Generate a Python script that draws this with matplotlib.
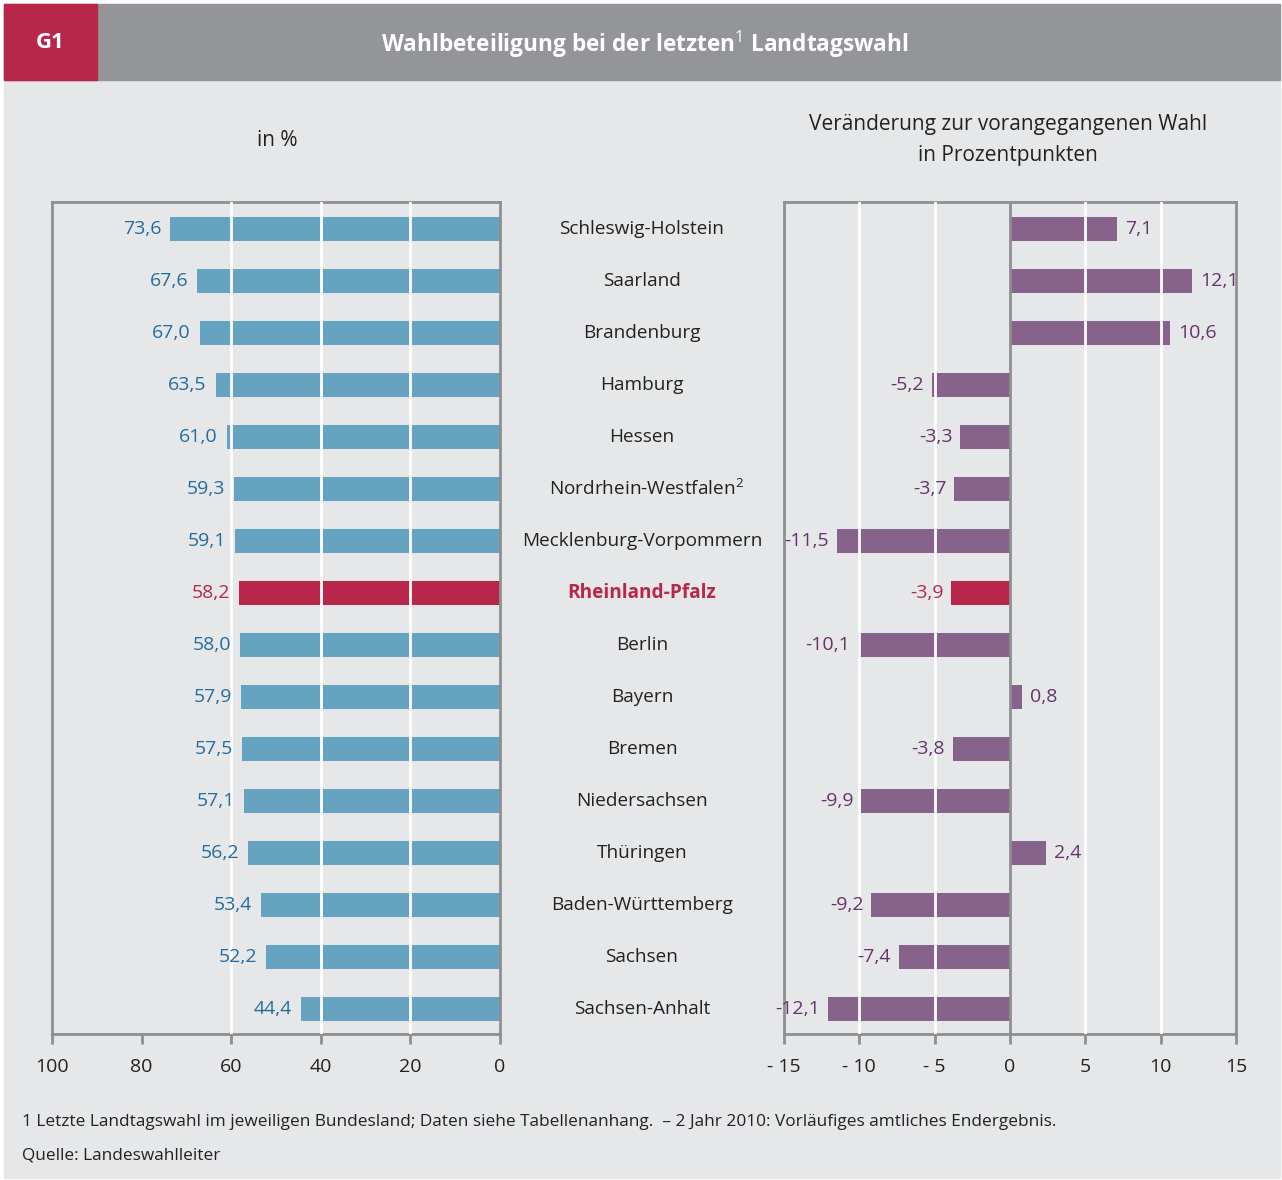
import matplotlib
matplotlib.use('Agg')
import matplotlib.pyplot as plt
import matplotlib.transforms as mtransforms
from matplotlib.patches import Rectangle

plt.rcParams['font.family'] = ['Open Sans', 'DejaVu Sans']
plt.rcParams['mathtext.fontset'] = 'custom'
plt.rcParams['mathtext.rm'] = 'Open Sans'

laender = ['Schleswig-Holstein', 'Saarland', 'Brandenburg', 'Hamburg', 'Hessen',
           'Nordrhein-Westfalen', 'Mecklenburg-Vorpommern', 'Rheinland-Pfalz',
           'Berlin', 'Bayern', 'Bremen', 'Niedersachsen', 'Thüringen',
           'Baden-Württemberg', 'Sachsen', 'Sachsen-Anhalt']
beteiligung = [73.6, 67.6, 67.0, 63.5, 61.0, 59.3, 59.1, 58.2, 58.0, 57.9,
               57.5, 57.1, 56.2, 53.4, 52.2, 44.4]
veraenderung = [7.1, 12.1, 10.6, -5.2, -3.3, -3.7, -11.5, -3.9, -10.1, 0.8,
                -3.8, -9.9, 2.4, -9.2, -7.4, -12.1]
left_ticks = [100, 80, 60, 40, 20, 0]
right_ticks = [-15, -10, -5, 0, 5, 10, 15]
right_ticklabels = ['- 15', '- 10', '- 5', '0', '5', '10', '15']
highlight = 'Rheinland-Pfalz'

W, H = 1282, 1180
bg = '#e6e7e9'
blue = '#65a3c0'
blue_txt = '#226d9f'
purple = '#87628a'
purple_txt = '#66346a'
red = '#b8274a'
spine_col = '#8e8f91'
txt = '#222222'

fig = plt.figure(figsize=(W / 100, H / 100), dpi=100, facecolor='white')

def fx(px):
    return px / W

def fy(py):
    return 1 - py / H

# hintergrund + kopfzeile
fig.patches.append(Rectangle((fx(4), fy(1178)), fx(1276), (1174) / H,
                             transform=fig.transFigure, color=bg, zorder=-10))
fig.patches.append(Rectangle((fx(4), fy(80)), fx(1276), 76 / H,
                             transform=fig.transFigure, color='#939598', zorder=-9))
fig.patches.append(Rectangle((fx(4), fy(80)), fx(93), 76 / H,
                             transform=fig.transFigure, color=red, zorder=-8))
fig.text(fx(50), fy(42), 'G1', color='white', fontsize=16, fontweight='bold',
         ha='center', va='center')
fig.text(fx(645), fy(44), r'Wahlbeteiligung bei der letzten$^{\mathrm{1}}$ Landtagswahl',
         color='white', fontsize=16.3, fontweight='bold', ha='center', va='center')

fig.text(fx(277), fy(140), 'in %', color=txt, fontsize=15, ha='center', va='center')
fig.text(fx(1008), fy(140), 'Veränderung zur vorangegangenen Wahl\nin Prozentpunkten',
         color=txt, fontsize=15, ha='center', va='center', linespacing=1.6)

ax1 = fig.add_axes([fx(52), fy(1034), fx(448), 832 / H])
ax2 = fig.add_axes([fx(784), fy(1034), fx(452), 832 / H])

y = list(range(len(laender)))
c1 = [red if n == highlight else blue for n in laender]
c2 = [red if n == highlight else purple for n in laender]

ax1.barh(y, beteiligung, height=0.47, color=c1, zorder=2)
ax2.barh(y, veraenderung, height=0.47, color=c2, zorder=2)

for ax in (ax1, ax2):
    ax.set_facecolor(bg)
    ax.set_ylim(15.48, -0.52)
    ax.set_yticks([])
    for s in ax.spines.values():
        s.set_color(spine_col)
        s.set_linewidth(2)
    ax.tick_params(axis='x', direction='out', length=7, width=2, color=spine_col,
                   labelsize=14, labelcolor=txt, pad=10)

ax1.set_xlim(100, 0)
ax1.set_xticks(left_ticks)
for g in [60, 40, 20]:
    ax1.axvline(g, color='white', lw=2, zorder=3)

ax2.set_xlim(-15, 15)
ax2.set_xticks(right_ticks)
ax2.set_xticklabels(right_ticklabels)
for g in [-10, -5, 5, 10]:
    ax2.axvline(g, color='white', lw=2, zorder=3)
ax2.axvline(0, color=spine_col, lw=2, zorder=4)

for i, (n, v) in enumerate(zip(laender, beteiligung)):
    col = red if n == highlight else blue_txt
    ax1.text(v + 2.0, i, f'{v:.1f}'.replace('.', ','), color=col, fontsize=14,
             ha='right', va='center')

for i, (n, v) in enumerate(zip(laender, veraenderung)):
    col = red if n == highlight else purple_txt
    lab = f'{v:.1f}'.replace('.', ',')
    if v >= 0:
        ax2.text(v + 0.55, i, lab, color=col, fontsize=14, ha='left', va='center')
    else:
        ax2.text(v - 0.5, i, lab, color=col, fontsize=14, ha='right', va='center')

trans = mtransforms.blended_transform_factory(fig.transFigure, ax1.transData)
for i, n in enumerate(laender):
    if n == highlight:
        fig.text(fx(642), i, n, transform=trans, color=red, fontsize=13.7,
                 fontweight='bold', ha='center', va='center')
    elif n == 'Nordrhein-Westfalen':
        fig.text(fx(646), i, n + r'$^{\mathrm{2}}$', transform=trans, color=txt,
                 fontsize=13.7, ha='center', va='center')
    else:
        fig.text(fx(642), i, n, transform=trans, color=txt, fontsize=13.7,
                 ha='center', va='center')

fig.text(fx(22), fy(1122),
         '1 Letzte Landtagswahl im jeweiligen Bundesland; Daten siehe Tabellenanhang.  '
         '– 2 Jahr 2010: Vorläufiges amtliches Endergebnis.',
         color=txt, fontsize=12.4, ha='left', va='center')
fig.text(fx(22), fy(1155), 'Quelle: Landeswahlleiter', color=txt, fontsize=12.4,
         ha='left', va='center')

fig.savefig('out.png', dpi=100, facecolor='white')
